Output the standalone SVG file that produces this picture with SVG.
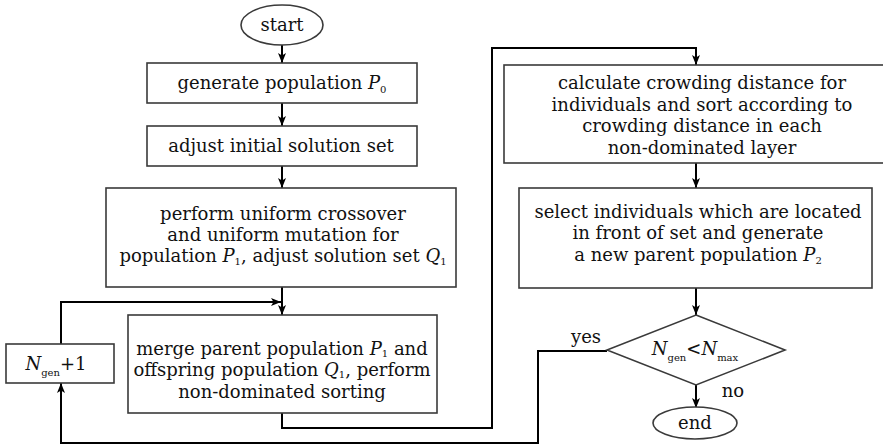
<svg xmlns="http://www.w3.org/2000/svg" width="883" height="447" viewBox="0 0 883 447">
  <defs>
    <marker id="arrow" viewBox="0 0 10 8" refX="10" refY="4" markerWidth="10" markerHeight="8" markerUnits="userSpaceOnUse" orient="auto">
      <path d="M0,0 L10,4 L0,8 L2.5,4 z" fill="#000"/>
    </marker>
    <style>
      .box { fill: #fff; stroke: #3a3a3a; stroke-width: 1.6; }
      .wire { fill: none; stroke: #000; stroke-width: 2; marker-end: url(#arrow); }
      text { font-family: "DejaVu Serif", "Liberation Serif", serif; font-size: 18px; fill: #111; text-anchor: middle; }
      .v { font-style: italic; }
      .sub { font-size: 10px; }
    </style>
  </defs>
  <rect width="883" height="447" fill="#fff"/>

  <!-- connectors -->
  <g id="connectors">
    <path class="wire" d="M282,45 V63"/>
    <path class="wire" d="M282,103 V126"/>
    <path class="wire" d="M282,166 V188"/>
    <path class="wire" d="M282,287 V315"/>
    <path class="wire" d="M61,344 V302 H281"/>
    <path class="wire" d="M282,413 V428 H492 V48 H696 V65"/>
    <path class="wire" d="M696,163 V188"/>
    <path class="wire" d="M696,288 V315"/>
    <path class="wire" d="M696,385 V408"/>
    <path class="wire" d="M607,351 H538 V443 H61 V383"/>
  </g>

  <g id="start">
    <ellipse class="box" cx="282" cy="25" rx="41" ry="20"/>
    <text x="282" y="31">start</text>
  </g>

  <g id="generate">
    <rect class="box" x="147" y="63" width="270" height="40"/>
    <text x="282" y="89">generate population <tspan class="v">P</tspan><tspan class="sub" dy="4">0</tspan></text>
  </g>

  <g id="adjust">
    <rect class="box" x="147" y="126" width="270" height="40"/>
    <text x="281" y="152">adjust initial solution set</text>
  </g>

  <g id="perform">
    <rect class="box" x="106" y="188" width="350" height="99"/>
    <text x="283" y="220">perform uniform crossover</text>
    <text x="283" y="241">and uniform mutation for</text>
    <text x="283" y="262">population <tspan class="v">P</tspan><tspan class="sub" dy="3">1</tspan><tspan dy="-3">, adjust solution set </tspan><tspan class="v">Q</tspan><tspan class="sub" dy="3">1</tspan></text>
  </g>

  <g id="merge">
    <rect class="box" x="128" y="315" width="309" height="98"/>
    <text x="282" y="355">merge parent population <tspan class="v">P</tspan><tspan class="sub" dy="2">1</tspan><tspan dy="-2"> and</tspan></text>
    <text x="282" y="376">offspring population <tspan class="v">Q</tspan><tspan class="sub" dy="2">1</tspan><tspan dy="-2">, perform</tspan></text>
    <text x="282" y="398">non-dominated sorting</text>
  </g>

  <g id="increment">
    <rect class="box" x="6" y="344" width="108" height="39"/>
    <text x="56" y="370"><tspan class="v">N</tspan><tspan class="sub" dy="6">gen</tspan><tspan dy="-6">+1</tspan></text>
  </g>

  <g id="crowding">
    <rect class="box" x="504" y="65" width="390" height="98"/>
    <text x="702" y="89">calculate crowding distance for</text>
    <text x="702" y="111">individuals and sort according to</text>
    <text x="702" y="132">crowding distance in each</text>
    <text x="702" y="154">non-dominated layer</text>
  </g>

  <g id="select">
    <rect class="box" x="519" y="188" width="353" height="100"/>
    <text x="698" y="218">select individuals which are located</text>
    <text x="698" y="239">in front of set and generate</text>
    <text x="698" y="261">a new parent population <tspan class="v">P</tspan><tspan class="sub" dy="3">2</tspan></text>
  </g>

  <g id="decision">
    <polygon class="box" points="696,315 785,350 696,385 607,350"/>
    <text x="695" y="355"><tspan class="v">N</tspan><tspan class="sub" dy="6">gen</tspan><tspan dy="-6">&lt;</tspan><tspan class="v">N</tspan><tspan class="sub" dy="6">max</tspan></text>
    <text x="586" y="343">yes</text>
    <text x="733" y="397">no</text>
  </g>

  <g id="end">
    <ellipse class="box" cx="695" cy="423" rx="42" ry="16"/>
    <text x="695" y="429">end</text>
  </g>
</svg>
